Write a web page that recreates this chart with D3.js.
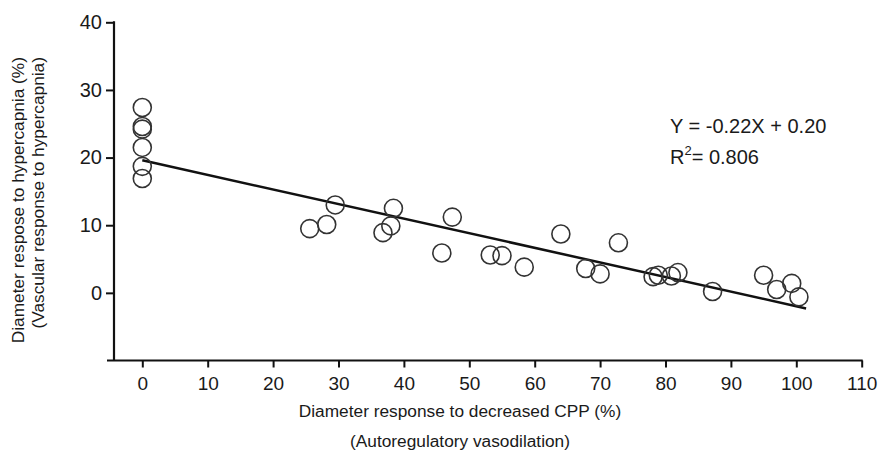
<!DOCTYPE html>
<html><head><meta charset="utf-8">
<script src="https://cdn.jsdelivr.net/npm/d3@7"></script>
<style>body{margin:0;background:#fff}svg{display:block}text{font-family:"Liberation Sans",Arial,sans-serif;fill:#1a1a1a}</style>
</head><body>
<script>
const xValues = [0,0,0,0,0,0,25.6,28.2,29.5,36.8,38.0,38.4,45.8,47.4,53.2,55.0,58.4,64.0,67.8,70.0,72.8,78.1,78.9,80.9,81.9,87.2,95.0,97.0,99.3,100.4];
const yValues = [27.4,24.6,24.2,21.5,18.7,16.9,9.5,10.1,13.0,8.9,9.9,12.5,5.9,11.2,5.6,5.5,3.8,8.7,3.6,2.8,7.4,2.4,2.6,2.5,3.0,0.2,2.6,0.5,1.4,-0.6];
const fitX = [0, 101.5];
const fitY = [19.6, -2.3];
const xTicks = [0,10,20,30,40,50,60,70,80,90,100,110];
const yTicks = [0,10,20,30,40];
const xTitle = ["Diameter response to decreased CPP (%)", "(Autoregulatory vasodilation)"];
const yTitle = ["Diameter respose to hypercapnia (%)", "(Vascular response to hypercapnia)"];
const eqText = "Y = -0.22X + 0.20";
const r2Value = "= 0.806";

const W = 879, H = 455;
const svg = d3.select("body").append("svg").attr("width", W).attr("height", H);
const x = d3.scaleLinear().domain([0, 110]).range([142.3, 861.7]);
const y = d3.scaleLinear().domain([-10, 40]).range([360.5, 22.3]);
const yAxisX = 114;

// x axis
const gx = svg.append("g").attr("transform", `translate(0,${y(-10)})`);
gx.append("line").attr("x1", 107).attr("x2", x(110)+1).attr("stroke", "#111").attr("stroke-width", 2.2);
gx.call(d3.axisBottom(x).tickValues(xTicks).tickSize(7).tickSizeOuter(0).tickFormat(d3.format("d")))
  .call(g => g.select(".domain").remove())
  .call(g => g.selectAll(".tick line").attr("stroke", "#111").attr("stroke-width", 2))
  .call(g => g.selectAll(".tick text").attr("font-size", 19).attr("dy", "1.05em").attr("font-family", "Liberation Sans, Arial, sans-serif").attr("fill", "#1a1a1a"));

// y axis
const gy = svg.append("g").attr("transform", `translate(${yAxisX},0)`);
gy.append("line").attr("y1", y(40)-1).attr("y2", y(-10)).attr("stroke", "#111").attr("stroke-width", 2.2);
gy.call(d3.axisLeft(y).tickValues(yTicks).tickSize(8).tickSizeOuter(0).tickPadding(4).tickFormat(d3.format("d")))
  .call(g => g.select(".domain").remove())
  .call(g => g.selectAll(".tick line").attr("stroke", "#111").attr("stroke-width", 2))
  .call(g => g.selectAll(".tick text").attr("font-size", 20).attr("font-family", "Liberation Sans, Arial, sans-serif").attr("fill", "#1a1a1a"));

// regression line
svg.append("line")
  .attr("x1", x(fitX[0])).attr("y1", y(fitY[0]))
  .attr("x2", x(fitX[1])).attr("y2", y(fitY[1]))
  .attr("stroke", "#111").attr("stroke-width", 2.5);

// points
svg.append("g").selectAll("circle").data(xValues.map((v,i)=>[v,yValues[i]])).join("circle")
  .attr("cx", d => x(d[0])).attr("cy", d => y(d[1])).attr("r", 9)
  .attr("fill", "none").attr("stroke", "#333").attr("stroke-width", 1.6);

// equation
svg.append("text").attr("x", 670).attr("y", 133).attr("font-size", 20).text(eqText);
const r2 = svg.append("text").attr("x", 670).attr("y", 164).attr("font-size", 20);
r2.append("tspan").text("R");
r2.append("tspan").attr("font-size", 13).attr("dy", -9).text("2");
r2.append("tspan").attr("dy", 9).text(r2Value);

// x title
svg.append("text").attr("x", 460).attr("y", 417).attr("text-anchor", "middle").attr("font-size", 17.3).text(xTitle[0]);
svg.append("text").attr("x", 460).attr("y", 447).attr("text-anchor", "middle").attr("font-size", 17.3).text(xTitle[1]);

// y title
svg.append("text").attr("transform", "translate(24,57) rotate(-90)").attr("text-anchor", "end").attr("font-size", 17.3).text(yTitle[0]);
svg.append("text").attr("transform", "translate(44,57) rotate(-90)").attr("text-anchor", "end").attr("font-size", 17.3).text(yTitle[1]);
</script>
</body></html>
